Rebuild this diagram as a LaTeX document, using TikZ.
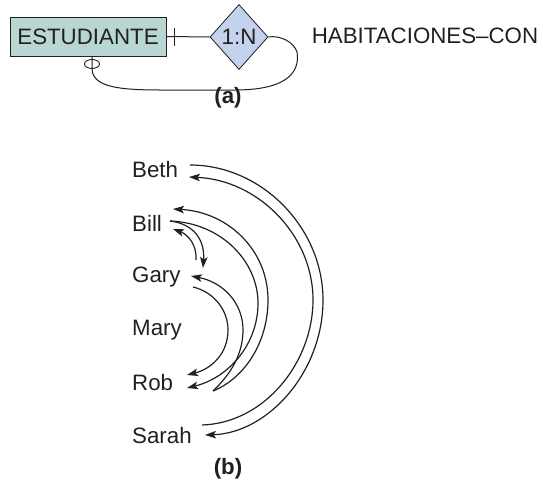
\documentclass[tikz,border=0pt]{standalone}
\usepackage{fontspec}
\setmainfont{Liberation Sans}
\usetikzlibrary{shapes.geometric,arrows.meta}
\definecolor{entfill}{HTML}{B8D6D2}
\definecolor{relfill}{HTML}{C4D2EE}
\definecolor{ink}{HTML}{231F20}
\tikzset{
  lbltext/.style={font=\fontsize{22.3}{26}\selectfont, text=ink, inner sep=0pt},
  personlbl/.style={lbltext, anchor=west},
  entbox/.style={lbltext, draw=ink, line width=1pt, fill=entfill, minimum width=156pt, minimum height=39pt},
  relbox/.style={lbltext, diamond, draw=ink, line width=0.8pt, fill=relfill, minimum width=58pt, minimum height=65pt},
  linkline/.style={draw=ink, line width=1pt},
  arrowarc/.style={draw=ink, line width=1.2pt, -{Stealth[length=11pt,width=7.5pt,inset=2.5pt]}},
  captionlbl/.style={lbltext, font=\fontsize{22.3}{26}\selectfont\bfseries}
}
\begin{document}
\begin{tikzpicture}[x=1pt,y=-1pt]
\useasboundingbox (0,0) rectangle (543,482);
% ---------- (a) ----------
\node[entbox] (est) at (88,36.5) {ESTUDIANTE};
\node[relbox] (rel) at (239,37) {1:N};
\node[lbltext] (hab) at (425,36) {HABITACIONES–CON};
\node[captionlbl] (capa) at (228,98) {(a)};
\draw[linkline] (est.east) -- (rel.west);
\coordinate (tk1) at (174,28);
\coordinate (tk2) at (174,46);
\draw[linkline] (tk1) -- (tk2);
\coordinate (stem) at ([xshift=4pt]est.south);
\node[draw=ink, line width=0.9pt, ellipse, minimum width=15pt, minimum height=9pt, inner sep=0pt] (opt) at (92,64) {};
\draw[linkline] (stem) -- (opt.center) -- (opt.south) .. controls (93,86) and (115,90) .. (160,90)
   -- (235,90) .. controls (290,90) and (300,70) .. (297,52)
   .. controls (294,42) and (280,35) .. (rel.east);
% ---------- (b) ----------
\node[personlbl] (beth) at (132,170) {Beth};
\node[personlbl] (bill) at (132,223) {Bill};
\node[personlbl] (gary) at (132,277) {Gary};
\node[personlbl] (mary) at (132,330) {Mary};
\node[personlbl] (rob) at (132,383) {Rob};
\node[personlbl] (sarah) at (132,436) {Sarah};
\node[captionlbl] (capb) at (228,469) {(b)};
% end points
\coordinate (bethOut) at (190,165);
\coordinate (bethIn) at (189,177);
\coordinate (billIn) at (173,209);
\coordinate (billOut) at (170,221);
\coordinate (billIn2) at (173,229);
\coordinate (garyIn2) at (203,268);
\coordinate (garyOut2) at (196,260);
\coordinate (garyIn) at (191,276);
\coordinate (garyOut) at (193,287);
\coordinate (robInA) at (187,375);
\coordinate (robInB) at (187,388);
\coordinate (robOut) at (213,391);
\coordinate (sarahOut) at (202,425);
\coordinate (sarahIn) at (205,435);
% Beth -> Sarah
\draw[arrowarc] (bethOut) .. controls (262,165) and (323,228) .. (323,300)
   .. controls (323,372) and (268,433) .. (sarahIn);
% Sarah -> Beth
\draw[arrowarc] (sarahOut) .. controls (265,423) and (313,362) .. (313,300)
   .. controls (313,235) and (258,180) .. (bethIn);
% Rob -> Bill
\draw[arrowarc] (robOut) .. controls (245,378) and (268,342) .. (268,300)
   .. controls (268,250) and (228,212) .. (billIn);
% Bill -> Rob
\draw[arrowarc] (billOut) .. controls (222,223) and (258,262) .. (258,303)
   .. controls (258,345) and (228,378) .. (robInB);
% Rob -> Gary
\draw[arrowarc] (robOut) .. controls (233,372) and (243,352) .. (243,330)
   .. controls (243,302) and (222,282) .. (garyIn);
% Gary -> Rob
\draw[arrowarc] (garyOut) .. controls (214,292) and (228,310) .. (228,330)
   .. controls (228,354) and (211,369) .. (robInA);
% Bill -> Gary
\draw[arrowarc] (billOut) .. controls (194,224) and (205,240) .. (garyIn2);
% Gary -> Bill
\draw[arrowarc] (garyOut2) .. controls (197,246) and (189,235) .. (billIn2);
\end{tikzpicture}
\end{document}
